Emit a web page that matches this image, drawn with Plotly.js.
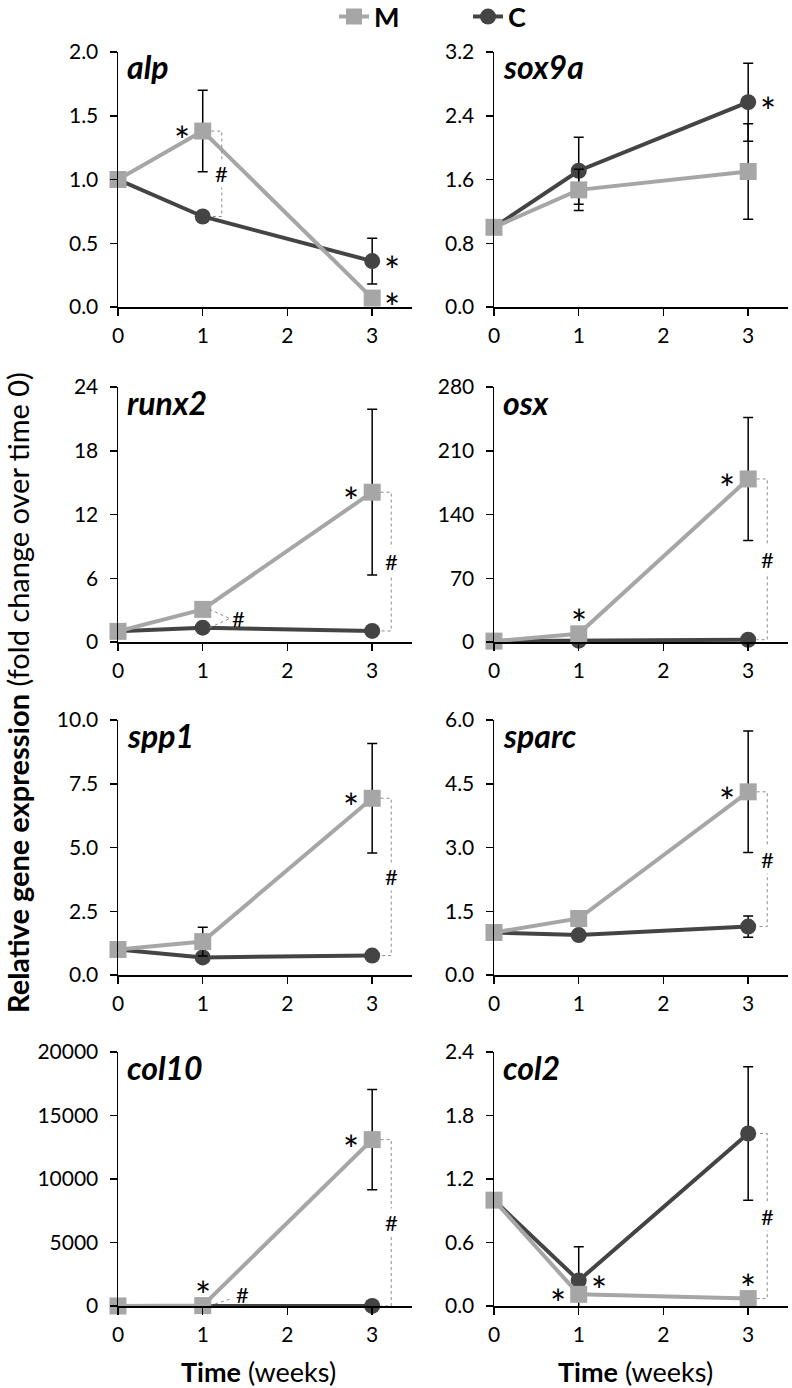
<!DOCTYPE html>
<html>
<head>
<meta charset="utf-8">
<script src="https://cdn.plot.ly/plotly-3.0.1.min.js"></script>
<style>
  html, body { margin: 0; padding: 0; background: #ffffff; }
  #chart { width: 792px; height: 1388px; }
</style>
</head>
<body>
<div id="chart"></div>
<script>
// ---------------- DATA ----------------
const weeks = [0, 1, 3];
const genes = ['alp', 'sox9a', 'runx2', 'osx', 'spp1', 'sparc', 'col10', 'col2'];

const M_alp   = [1.0, 1.38, 0.07];   const C_alp   = [1.0, 0.71, 0.36];
const M_sox9a = [1.0, 1.47, 1.70];   const C_sox9a = [1.0, 1.71, 2.57];
const M_runx2 = [1.0, 3.07, 14.1];   const C_runx2 = [1.0, 1.35, 1.04];
const M_osx   = [1.0, 9.0, 179];     const C_osx   = [1.0, 1.5, 2.5];
const M_spp1  = [1.0, 1.31, 6.93];   const C_spp1  = [1.0, 0.69, 0.76];
const M_sparc = [1.0, 1.33, 4.31];   const C_sparc = [1.0, 0.94, 1.14];
const M_col10 = [1.0, 30, 13100];    const C_col10 = [1.0, 1.0, 5];
const M_col2  = [1.0, 0.11, 0.07];   const C_col2  = [1.0, 0.24, 1.63];

// error bars (SD), null = not shown
const eM_alp   = [null, 0.32, null];  const eC_alp   = [null, null, 0.18];
const eM_sox9a = [null, 0.26, 0.60];  const eC_sox9a = [null, 0.42, 0.49];
const eM_runx2 = [null, null, 7.8];   const eC_runx2 = [null, null, null];
const eM_osx   = [null, null, 67.5];  const eC_osx   = [null, null, null];
const eM_spp1  = [null, 0.56, 2.15];  const eC_spp1  = [null, null, null];
const eM_sparc = [null, null, 1.43];  const eC_sparc = [null, null, 0.25];
const eM_col10 = [null, null, 3950];  const eC_col10 = [null, null, null];
const eM_col2  = [null, null, null];  const eC_col2  = [null, 0.32, 0.63];

// y-axis ranges / tick steps / formats
const yMax   = [2.0, 3.2, 24, 280, 10, 6, 20000, 2.4];
const yStep  = [0.5, 0.8, 6, 70, 2.5, 1.5, 5000, 0.6];
const yFmt   = ['.1f', '.1f', 'd', 'd', '.1f', '.1f', 'd', '.1f'];
const xTicks = [0, 1, 2, 3];

// significance: '*' vs time 0  (panel, series, index, side)
const stars = [
  [0, 'M', 1, 'left'], [0, 'C', 2, 'right'], [0, 'M', 2, 'right'],
  [1, 'C', 2, 'right'],
  [2, 'M', 2, 'left'],
  [3, 'M', 1, 'above'], [3, 'M', 2, 'left'],
  [4, 'M', 2, 'left'],
  [5, 'M', 2, 'left'],
  [6, 'M', 1, 'above'], [6, 'M', 2, 'left'],
  [7, 'M', 1, 'left'], [7, 'C', 1, 'right'], [7, 'M', 2, 'above']
];
// '#' M vs C: (panel, index, connector style)
const hashes = [
  [0, 1, 'bracket'],
  [2, 1, 'converge'], [2, 2, 'bracket'],
  [3, 2, 'bracket'],
  [4, 2, 'bracket'],
  [5, 2, 'bracket'],
  [6, 1, 'single'], [6, 2, 'bracket'],
  [7, 2, 'bracket']
];

const Mser = [M_alp, M_sox9a, M_runx2, M_osx, M_spp1, M_sparc, M_col10, M_col2];
const Cser = [C_alp, C_sox9a, C_runx2, C_osx, C_spp1, C_sparc, C_col10, C_col2];
const eMser = [eM_alp, eM_sox9a, eM_runx2, eM_osx, eM_spp1, eM_sparc, eM_col10, eM_col2];
const eCser = [eC_alp, eC_sox9a, eC_runx2, eC_osx, eC_spp1, eC_sparc, eC_col10, eC_col2];

// ---------------- STYLE / LAYOUT ----------------
const W = 792, H = 1388;
const FONT = 'Lato, "Open Sans", sans-serif';
const colM = '#a6a6a6', colC = '#444444';
const rowsPx = [[52, 307], [387, 642], [720, 975], [1052, 1306]];
const colsPx = [[118, 412], [494, 788]];
const xTitleCenterPx = [258, 635];
const XMAX = 3.47;
const TICK = 21;

const toNaN = a => a.map(v => (v == null ? NaN : v));

const data = [];
const layout = {
  width: W, height: H,
  margin: {l: 0, r: 0, t: 0, b: 0, autoexpand: false},
  paper_bgcolor: '#ffffff', plot_bgcolor: 'rgba(0,0,0,0)',
  font: {family: FONT, size: TICK, color: '#000000'},
  showlegend: true,
  legend: {
    orientation: 'h', x: 334 / W, xanchor: 'left', y: 1 - 17 / H, yanchor: 'middle',
    font: {family: FONT, size: 27, color: '#000000', weight: 'bold'},
    bgcolor: 'rgba(0,0,0,0)', entrywidth: 89, entrywidthmode: 'pixels',
    itemclick: false, tracegroupgap: 0
  },
  annotations: [], shapes: []
};

genes.forEach((g, i) => {
  const n = i + 1;
  const xa = 'x' + (n === 1 ? '' : n), ya = 'y' + (n === 1 ? '' : n);
  const row = Math.floor(i / 2), col = i % 2;
  const xDom = [colsPx[col][0] / W, colsPx[col][1] / W];
  const yDom = [1 - rowsPx[row][1] / H, 1 - rowsPx[row][0] / H];

  const errStyle = {type: 'data', visible: true, color: '#000000', thickness: 1.5, width: 5};
  data.push({
    type: 'scatter', mode: 'lines+markers', name: 'C', x: weeks, y: Cser[i],
    xaxis: xa, yaxis: ya, showlegend: i === 0, legendrank: 2, cliponaxis: false,
    line: {color: colC, width: 4},
    marker: {symbol: 'circle', size: 16, color: colC},
    error_y: Object.assign({array: toNaN(eCser[i])}, errStyle)
  });
  data.push({
    type: 'scatter', mode: 'lines+markers', name: 'M', x: weeks, y: Mser[i],
    xaxis: xa, yaxis: ya, showlegend: i === 0, legendrank: 1, cliponaxis: false,
    line: {color: colM, width: 4},
    marker: {symbol: 'square', size: 17, color: colM},
    error_y: Object.assign({array: toNaN(eMser[i])}, errStyle)
  });

  const xKey = 'xaxis' + (n === 1 ? '' : n), yKey = 'yaxis' + (n === 1 ? '' : n);
  layout[xKey] = {
    domain: xDom, anchor: ya, range: [0, XMAX],
    tickmode: 'array', tickvals: xTicks, ticktext: xTicks.map(String),
    showline: true, linecolor: '#000000', linewidth: 1.5,
    ticks: 'outside', ticklen: 7, tickwidth: 1.5, tickcolor: '#000000',
    showgrid: false, zeroline: false, fixedrange: true, automargin: false,
    tickfont: {family: FONT, size: TICK, color: '#000000'}, ticklabelstandoff: 2
  };
  layout[yKey] = {
    domain: yDom, anchor: xa, range: [0, yMax[i]],
    tick0: 0, dtick: yStep[i], tickformat: yFmt[i],
    showline: true, linecolor: '#000000', linewidth: 1.5,
    ticks: 'outside', ticklen: 7, tickwidth: 1.5, tickcolor: '#000000',
    showgrid: false, zeroline: false, fixedrange: true, automargin: false,
    tickfont: {family: FONT, size: TICK, color: '#000000'}, ticklabelstandoff: 7
  };

  // gene label
  layout.annotations.push({
    xref: xa + ' domain', yref: ya + ' domain', x: 0, y: 1,
    xanchor: 'left', yanchor: 'middle', xshift: 7, yshift: -15,
    text: '<b><i>' + g + '</i></b>', showarrow: false,
    font: {family: FONT, size: 32, color: '#000000'}
  });

  // x-axis title on bottom row
  if (row === 3) {
    layout.annotations.push({
      xref: 'paper', yref: 'paper', x: xTitleCenterPx[col] / W, y: 1 - 1371 / H,
      xanchor: 'center', yanchor: 'middle', showarrow: false,
      text: '<b>Time</b> (weeks)',
      font: {family: FONT, size: 27, color: '#000000'}
    });
  }
});

// asterisks
stars.forEach(([p, s, k, side]) => {
  const n = p + 1;
  const xa = 'x' + (n === 1 ? '' : n), ya = 'y' + (n === 1 ? '' : n);
  const yv = (s === 'M' ? Mser[p] : Cser[p])[k];
  let xs = 0, ys = -9;
  if (side === 'left') xs = -21;
  if (side === 'right') xs = 20;
  if (side === 'above') ys = 11;
  layout.annotations.push({
    xref: xa, yref: ya, x: weeks[k], y: yv, xshift: xs, yshift: ys,
    text: '*', showarrow: false, xanchor: 'center', yanchor: 'middle',
    font: {family: FONT, size: 38, color: '#000000'}
  });
});

// hash marks with dotted connectors
const dotLine = {color: '#8c8c8c', width: 1, dash: 'dot'};
hashes.forEach(([p, k, kind]) => {
  const n = p + 1;
  const xa = 'x' + (n === 1 ? '' : n), ya = 'y' + (n === 1 ? '' : n);
  const m = Mser[p][k], c = Cser[p][k], x = weeks[k];
  const hashFont = {family: FONT, size: 22, color: '#000000'};
  if (kind === 'bracket') {
    const xb = x + 0.225;
    layout.shapes.push({
      type: 'path', xref: xa, yref: ya, line: dotLine,
      path: `M ${x + 0.1},${m} L ${xb},${m} L ${xb},${c} L ${x + 0.1},${c}`
    });
    layout.annotations.push({
      xref: xa, yref: ya, x: xb, y: (m + c) / 2, text: '#', showarrow: false,
      bgcolor: '#ffffff', borderpad: 0, font: hashFont
    });
  } else if (kind === 'converge') {
    const mid = (m + c) / 2;
    layout.shapes.push({type: 'line', xref: xa, yref: ya, x0: x + 0.08, y0: m, x1: x + 0.32, y1: mid, line: dotLine});
    layout.shapes.push({type: 'line', xref: xa, yref: ya, x0: x + 0.08, y0: c, x1: x + 0.32, y1: mid, line: dotLine});
    layout.annotations.push({
      xref: xa, yref: ya, x: x + 0.42, y: mid, text: '#', showarrow: false, font: hashFont
    });
  } else {
    layout.shapes.push({
      type: 'line', xref: xa, yref: ya, ysizemode: 'pixel', yanchor: m,
      x0: x + 0.08, y0: 0, x1: x + 0.34, y1: 7, line: dotLine
    });
    layout.annotations.push({
      xref: xa, yref: ya, x: x + 0.47, y: m, yshift: 11, text: '#', showarrow: false, font: hashFont
    });
  }
});

// common y-axis title
layout.annotations.push({
  xref: 'paper', yref: 'paper', x: 17 / W, y: 1 - 693 / H,
  xanchor: 'center', yanchor: 'middle', textangle: -90, showarrow: false,
  text: '<b>Relative gene expression</b> (fold change over time 0)',
  font: {family: FONT, size: 29, color: '#000000'}
});

Plotly.newPlot('chart', data, layout, {displayModeBar: false, staticPlot: true});
</script>
</body>
</html>
